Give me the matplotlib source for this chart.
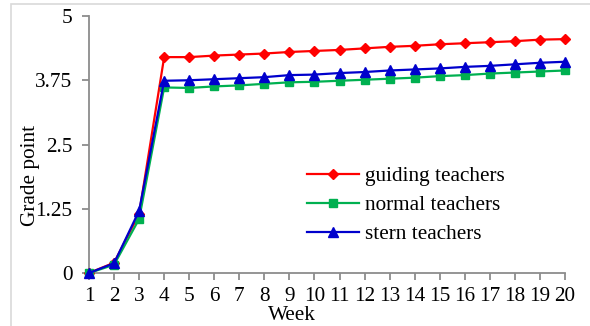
import matplotlib.pyplot as plt
from matplotlib.patches import Rectangle

weeks = list(range(1, 21))
guiding = [0, 0.20, 1.15, 4.20, 4.20, 4.23, 4.25, 4.27, 4.30, 4.32,
           4.34, 4.37, 4.40, 4.42, 4.45, 4.47, 4.49, 4.51, 4.54, 4.55]
normal = [0, 0.16, 1.05, 3.61, 3.60, 3.63, 3.65, 3.68, 3.71, 3.72,
          3.74, 3.76, 3.78, 3.80, 3.83, 3.85, 3.88, 3.90, 3.92, 3.94]
stern = [0, 0.19, 1.21, 3.74, 3.75, 3.77, 3.79, 3.81, 3.85, 3.86,
         3.89, 3.91, 3.94, 3.96, 3.98, 4.01, 4.03, 4.06, 4.09, 4.11]
yticks = [0, 1.25, 2.5, 3.75, 5]
ytick_labels = ['0', '1.25', '2.5', '3.75', '5']

plt.rcParams['font.family'] = ['Liberation Serif', 'DejaVu Serif']
fs = 15.3

fig = plt.figure(figsize=(5.9, 3.26), dpi=100)
fig.patches.append(Rectangle((11/590, -0.1), 1.1, 1 - 4/326 + 0.1, transform=fig.transFigure,
                             fill=False, edgecolor='#d9d9d9', linewidth=1.2))
ax = fig.add_axes([89/590, 1 - 273/326, (565 - 89)/590, (273 - 16)/326])

ax.plot(weeks, guiding, color='#ff0000', marker='D', markersize=5, linewidth=1.6,
        label='guiding teachers', clip_on=False, zorder=3)
ax.plot(weeks, normal, color='#00b050', marker='s', markersize=5.5, linewidth=1.6,
        label='normal teachers', clip_on=False, zorder=3)
ax.plot(weeks, stern, color='#0000cc', marker='^', markersize=6.5, linewidth=1.6,
        label='stern teachers', clip_on=False, zorder=4)

ax.set_xlim(1, 20)
ax.set_ylim(0, 5)
ax.set_xticks(weeks)
ax.set_xticklabels([str(w) for w in weeks], fontsize=fs)
ax.set_yticks(yticks)
ax.set_yticklabels(ytick_labels, fontsize=fs)
for s in ['top', 'right']:
    ax.spines[s].set_visible(False)
for s in ['left', 'bottom']:
    ax.spines[s].set_color('#8c8c8c')
    ax.spines[s].set_linewidth(1.3)
ax.tick_params(axis='both', direction='out', length=5, width=1.3, color='#8c8c8c',
               labelcolor='black')
ax.tick_params(axis='x', pad=5)
ax.tick_params(axis='y', pad=7)

# the reference draws the axis title across the 1.25 label, keep it there
fig.text(30/590, 1 - 175/326, 'Grade point', rotation=90, fontsize=fs,
         ha='center', va='center')
fig.text(292/590, 1 - 316/326, 'Week', fontsize=fs, ha='center', va='center')

ax.legend(loc='upper left', bbox_to_anchor=((296 - 89)/476, 1 - (156 - 16)/257),
          frameon=False, fontsize=fs, handlelength=2.45, handletextpad=0.3,
          labelspacing=0.42, borderpad=0)

fig.savefig('out.png', dpi=100)
